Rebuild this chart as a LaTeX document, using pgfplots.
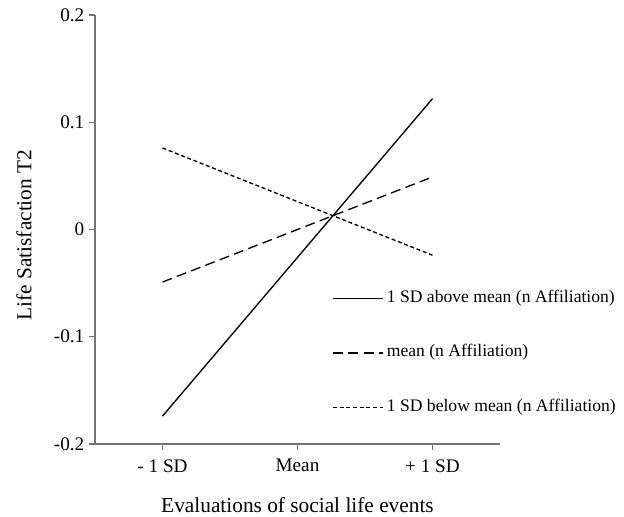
\documentclass[border=0pt]{standalone}
\usepackage{fontspec}
\setmainfont{Liberation Serif}
\usepackage{pgfplots}
\pgfplotsset{compat=1.18}
% 1 unit = 1 px of the reference (0.75pt)
\begin{document}
\begin{tikzpicture}[x=0.75pt,y=0.75pt]
\useasboundingbox (-95,-73) rectangle (529,444);
\begin{axis}[
    at={(0,0)}, anchor=south west,
    scale only axis,
    width=303.75pt, height=321.75pt,
    xmin=-0.5, xmax=2.5,
    ymin=-0.2, ymax=0.2,
    axis x line*=bottom,
    axis y line*=left,
    axis line style={-, draw=gray!90!black, line width=0.8pt},
    tick style={draw=gray!90!black, line width=0.8pt},
    tick align=outside,
    major tick length=4.5pt,
    xtick={0,1,2},
    xticklabels={- 1 SD, Mean, + 1 SD},
    ytick={-0.2,-0.1,0,0.1,0.2},
    yticklabels={-0.2,-0.1,0,0.1,0.2},
    tick label style={font=\fontsize{14.4}{17}\selectfont},
    xticklabel style={yshift=-3.5pt},
    label style={font=\fontsize{16}{19}\selectfont},
    xlabel={Evaluations of social life events},
    ylabel={Life Satisfaction T2},
    xlabel style={at={(axis description cs:0.5,0)}, anchor=center, yshift=-46pt},
    ylabel style={at={(axis description cs:0,0.487)}, anchor=center, yshift=53.25pt},
    legend cell align={left},
    legend style={draw=none, fill=none, at={(0.585,0.363)}, anchor=north west,
        inner sep=0pt, row sep=25.75pt,
        font=\fontsize{13.2}{15.8}\selectfont,
        nodes={inner sep=1.5pt, text height=9pt, text depth=3pt}},
    legend image code/.code={\draw[#1] (0pt,0pt) -- (37.5pt,0pt);},
]
\addplot[black, line width=1pt] coordinates {(0,-0.174) (2,0.122)};
\addlegendentry{\hspace{1pt}1 SD above mean (n Affiliation)}
\addplot[black, line width=1pt, dash pattern=on 7.5pt off 4pt] coordinates {(0,-0.049) (2,0.049)};
\addlegendentry{\hspace{1pt}mean (n Affiliation)}
\addplot[black, line width=1pt, dash pattern=on 3pt off 2pt] coordinates {(0,0.076) (2,-0.024)};
\addlegendentry{\hspace{1pt}1 SD below mean (n Affiliation)}
\end{axis}
\end{tikzpicture}
\end{document}
